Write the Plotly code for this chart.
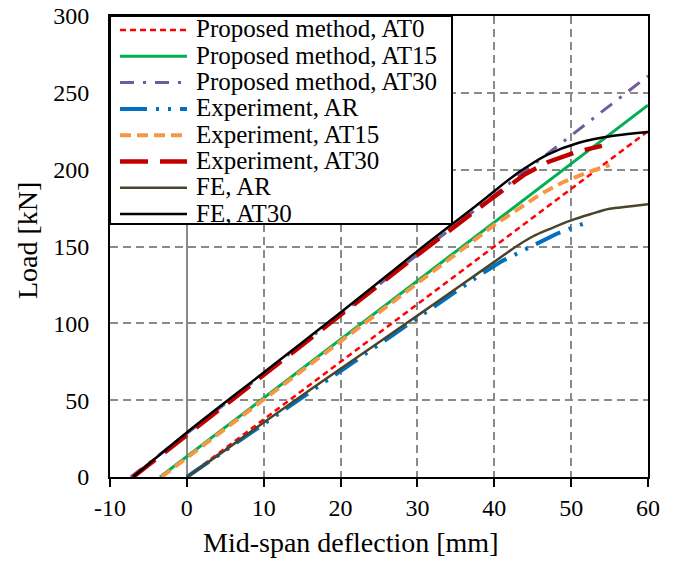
import plotly.graph_objects as go

# Load-deflection data (deflection in mm, load in kN)
prop_at0_x = [0, 60]
prop_at0_y = [0, 225]

prop_at15_x = [-3.5, 60]
prop_at15_y = [0, 242]

prop_at30_x = [-7.3, 60]
prop_at30_y = [0, 261]

exp_ar_x = [0, 10, 20, 30, 38, 41, 44, 46, 48, 50, 52]
exp_ar_y = [0, 34.5, 69, 103, 131, 140.5, 148, 153, 158, 162, 165.5]

exp_at15_x = [-3.3, 0, 10, 20, 30, 40, 43, 46, 49, 52, 55]
exp_at15_y = [0, 12.5, 50, 88, 126, 164, 174, 184, 192, 198, 203]

exp_at30_x = [-7.0, 0, 10, 20, 30, 40, 44, 47, 51, 54]
exp_at30_y = [0, 27.5, 66.5, 105.5, 144.5, 182.5, 197, 205, 212, 215.5]

fe_ar_x = [0, 5, 10, 20, 30, 40, 43, 45, 47.5, 50, 52.5, 55, 57.5, 60]
fe_ar_y = [0, 17.5, 35.5, 70.5, 105, 140, 150.5, 156.5, 162, 167, 171, 174.5, 176, 177.5]

fe_at30_x = [-7.0, 0, 10, 20, 30, 38, 42, 44, 46.8, 51, 55.5, 60]
fe_at30_y = [0, 29, 68, 107, 147, 178, 194, 201, 209.5, 217.5, 222, 224.5]

x_ticks = [-10, 0, 10, 20, 30, 40, 50, 60]
y_ticks = [0, 50, 100, 150, 200, 250, 300]

FONT = "Liberation Serif"

series = [
    ("Proposed method, AT0", prop_at0_x, prop_at0_y, "#ff0000", 2.5, "6px,4px", "linear"),
    ("Proposed method, AT15", prop_at15_x, prop_at15_y, "#00b050", 3, "solid", "linear"),
    ("Proposed method, AT30", prop_at30_x, prop_at30_y, "#705c9c", 3, "14px,9px,3px,9px", "linear"),
    ("Experiment, AR", exp_ar_x, exp_ar_y, "#0070c0", 4, "27px,9px,3px,9px,3px,9px", "linear"),
    ("Experiment, AT15", exp_at15_x, exp_at15_y, "#f79646", 4, "11px,6px", "linear"),
    ("Experiment, AT30", exp_at30_x, exp_at30_y, "#c00000", 4.5, "28px,12px", "linear"),
    ("FE, AR", fe_ar_x, fe_ar_y, "#4a452a", 2.5, "solid", "spline"),
    ("FE, AT30", fe_at30_x, fe_at30_y, "#000000", 2.5, "solid", "spline"),
]

fig = go.Figure()
for name, xs, ys, color, width, dash, shape in series:
    fig.add_trace(go.Scatter(
        x=xs, y=ys, mode="lines", name=name, showlegend=False,
        line=dict(color=color, width=width, dash=dash, shape=shape),
    ))

# Boxed legend in the upper-left corner of the plot area
W, H = 538, 461  # plot area size in px


def px_x(p):
    return p / W


def px_y(p):
    return 1 - p / H


shapes = [dict(type="rect", xref="paper", yref="paper",
               x0=0, x1=px_x(342), y0=px_y(208), y1=1,
               fillcolor="white", line=dict(color="black", width=2), layer="above")]
annotations = []
for i, (name, xs, ys, color, width, dash, shape) in enumerate(series):
    row = 14 + 26.3 * i
    shapes.append(dict(type="line", xref="paper", yref="paper",
                       x0=px_x(10), x1=px_x(77), y0=px_y(row), y1=px_y(row),
                       line=dict(color=color, width=width, dash=dash), layer="above"))
    annotations.append(dict(text=name, xref="paper", yref="paper",
                            x=px_x(84), y=px_y(row - 1), xanchor="left", yanchor="middle",
                            showarrow=False, font=dict(family=FONT, size=25, color="black")))

# Axis titles
annotations.append(dict(text="Mid-span deflection [mm]", xref="paper", yref="paper",
                        x=px_x(240), y=px_y(526), xanchor="center", yanchor="middle",
                        showarrow=False, font=dict(family=FONT, size=28, color="black")))
annotations.append(dict(text="Load [kN]", xref="paper", yref="paper",
                        x=px_x(-83), y=px_y(225), xanchor="center", yanchor="middle",
                        textangle=-90, showarrow=False,
                        font=dict(family=FONT, size=28, color="black")))

fig.update_layout(
    width=678, height=566,
    margin=dict(l=110, r=30, t=16, b=89),
    paper_bgcolor="white", plot_bgcolor="white",
    font=dict(family=FONT, color="black"),
    shapes=shapes, annotations=annotations,
    showlegend=False,
)
fig.update_xaxes(
    range=[-10, 60], tickvals=x_ticks, ticktext=[str(v) for v in x_ticks],
    tickfont=dict(family=FONT, size=24, color="black"),
    ticks="outside", ticklen=8, tickwidth=2, tickcolor="black",
    showline=True, linecolor="black", linewidth=2, mirror=True,
    showgrid=True, gridcolor="#8a8a8a", gridwidth=2, griddash="8px,5px",
    zeroline=True, zerolinecolor="#8a8a8a", zerolinewidth=2,
    automargin=False,
)
fig.update_yaxes(
    range=[0, 300], tickvals=y_ticks, ticktext=[str(v) for v in y_ticks],
    tickfont=dict(family=FONT, size=24, color="black"),
    ticks="", ticklabelstandoff=14,
    showline=True, linecolor="black", linewidth=2, mirror=True,
    showgrid=True, gridcolor="#8a8a8a", gridwidth=2, griddash="8px,5px",
    zeroline=False,
    automargin=False,
)

fig.write_html("out.html")
